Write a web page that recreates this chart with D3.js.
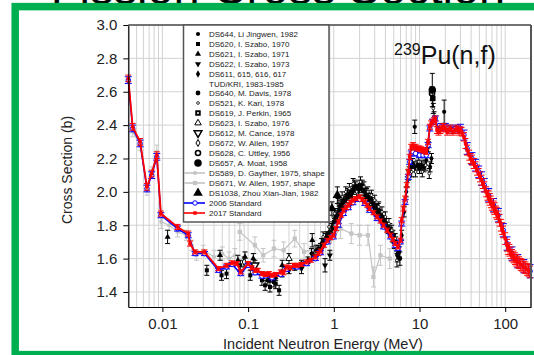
<!DOCTYPE html>
<html>
<head>
<meta charset="utf-8">
<script src="https://cdn.jsdelivr.net/npm/d3@7"></script>
<style>
  body { margin: 0; background: #fff; }
  svg { display: block; font-family: Arial, "Liberation Sans", sans-serif; }
</style>
</head>
<body>
<svg id="chart" width="534" height="355"></svg>
<script>
// ---- data: [energy MeV, cross section b, uncertainty b] ----
const yTicks = [1.4, 1.6, 1.8, 2.0, 2.2, 2.4, 2.6, 2.8, 3.0];
const xTicks = [0.01, 0.1, 1, 10, 100];
const xTickLabels = ['0.01', '0.1', '1', '10', '100'];

const std2017 = [
  [0.004, 2.68, 0.02], [0.0045, 2.39, 0.02], [0.0055, 2.30, 0.02], [0.0066, 2.03, 0.02],
  [0.0075, 2.11, 0.02], [0.0086, 2.22, 0.02], [0.0096, 1.87, 0.015], [0.015, 1.79, 0.015],
  [0.020, 1.75, 0.015], [0.021, 1.69, 0.015], [0.024, 1.64, 0.012], [0.031, 1.64, 0.012],
  [0.045, 1.54, 0.012], [0.056, 1.56, 0.012], [0.065, 1.575, 0.012], [0.074, 1.57, 0.012],
  [0.082, 1.52, 0.012], [0.1, 1.57, 0.012], [0.11, 1.545, 0.012], [0.121, 1.53, 0.012],
  [0.13, 1.53, 0.012], [0.145, 1.51, 0.012], [0.16, 1.505, 0.012], [0.175, 1.51, 0.012],
  [0.19, 1.50, 0.012], [0.21, 1.505, 0.012], [0.24, 1.52, 0.012], [0.26, 1.515, 0.012],
  [0.28, 1.55, 0.012], [0.31, 1.545, 0.012], [0.34, 1.56, 0.012], [0.37, 1.56, 0.012],
  [0.42, 1.565, 0.012], [0.48, 1.58, 0.012], [0.54, 1.59, 0.012], [0.61, 1.61, 0.012],
  [0.66, 1.63, 0.012], [0.70, 1.645, 0.012], [0.77, 1.68, 0.012], [0.84, 1.71, 0.012],
  [0.92, 1.725, 0.012], [0.99, 1.74, 0.012], [1.06, 1.78, 0.012], [1.13, 1.82, 0.012],
  [1.22, 1.86, 0.012], [1.30, 1.89, 0.012], [1.39, 1.905, 0.012], [1.48, 1.92, 0.012],
  [1.57, 1.935, 0.012], [1.67, 1.95, 0.012], [1.8, 1.96, 0.012], [2.0, 1.97, 0.012],
  [2.15, 1.955, 0.012], [2.3, 1.94, 0.012], [2.45, 1.92, 0.012], [2.6, 1.90, 0.012],
  [2.9, 1.875, 0.012], [3.2, 1.85, 0.012], [3.5, 1.825, 0.012], [3.8, 1.80, 0.012],
  [4.2, 1.77, 0.012], [4.6, 1.74, 0.012], [4.9, 1.715, 0.012], [5.2, 1.69, 0.012],
  [5.6, 1.67, 0.012], [6.0, 1.71, 0.012], [6.2, 1.83, 0.015], [6.5, 1.90, 0.015],
  [6.8, 1.96, 0.015], [7.1, 2.04, 0.015], [7.4, 2.12, 0.015], [7.7, 2.21, 0.015],
  [8.0, 2.27, 0.015], [8.4, 2.28, 0.015], [8.7, 2.265, 0.015], [9.0, 2.27, 0.015],
  [9.5, 2.26, 0.015], [10, 2.26, 0.015], [10.5, 2.255, 0.015], [11, 2.25, 0.015],
  [11.5, 2.245, 0.015], [12, 2.24, 0.015], [12.6, 2.30, 0.015], [13.2, 2.39, 0.015],
  [13.7, 2.41, 0.015], [14.2, 2.42, 0.015], [14.8, 2.43, 0.015], [15.3, 2.44, 0.015],
  [16, 2.37, 0.02], [16.7, 2.36, 0.02], [17.5, 2.37, 0.02], [18, 2.38, 0.02],
  [19, 2.39, 0.02], [20, 2.38, 0.02], [21, 2.36, 0.02], [22, 2.37, 0.02],
  [23, 2.38, 0.02], [24.5, 2.36, 0.02], [26.5, 2.37, 0.02], [27.5, 2.38, 0.02],
  [29, 2.36, 0.02], [30, 2.37, 0.02], [31, 2.36, 0.025], [33, 2.33, 0.025],
  [34.5, 2.29, 0.03], [36, 2.25, 0.03], [38, 2.22, 0.03], [39.5, 2.20, 0.03],
  [41, 2.19, 0.03], [43, 2.17, 0.03], [45, 2.15, 0.03], [47, 2.13, 0.03],
  [49, 2.11, 0.03], [51, 2.09, 0.03], [53, 2.07, 0.03], [55, 2.05, 0.03],
  [57, 2.03, 0.03], [60, 2.00, 0.03], [62, 1.98, 0.03], [64, 1.97, 0.035],
  [66, 1.955, 0.035], [68, 1.94, 0.035], [70, 1.925, 0.035], [73, 1.91, 0.035],
  [75, 1.90, 0.035], [78, 1.88, 0.035], [80, 1.87, 0.035], [83, 1.85, 0.035],
  [86, 1.83, 0.035], [89, 1.80, 0.035], [92, 1.78, 0.035], [95, 1.76, 0.035],
  [100, 1.72, 0.035], [105, 1.68, 0.035], [108, 1.66, 0.035], [112, 1.65, 0.035],
  [116, 1.635, 0.035], [120, 1.62, 0.035], [125, 1.61, 0.035], [130, 1.60, 0.035],
  [135, 1.59, 0.035], [140, 1.58, 0.035], [146, 1.575, 0.035], [152, 1.565, 0.035],
  [158, 1.56, 0.035], [165, 1.55, 0.035], [172, 1.545, 0.035], [180, 1.535, 0.035],
  [187, 1.53, 0.035], [195, 1.52, 0.035]
];

const std2006 = [
  [0.004, 2.67, 0.02], [0.0045, 2.38, 0.02], [0.0055, 2.29, 0.02], [0.0066, 2.02, 0.02],
  [0.0075, 2.10, 0.02], [0.0086, 2.21, 0.02], [0.0096, 1.86, 0.015], [0.015, 1.78, 0.015],
  [0.020, 1.74, 0.015], [0.024, 1.63, 0.012], [0.031, 1.63, 0.012], [0.045, 1.53, 0.012],
  [0.056, 1.55, 0.012], [0.065, 1.565, 0.012], [0.082, 1.51, 0.012], [0.1, 1.56, 0.012],
  [0.121, 1.515, 0.012], [0.145, 1.495, 0.012], [0.19, 1.485, 0.012], [0.24, 1.505, 0.012],
  [0.28, 1.535, 0.012], [0.37, 1.55, 0.012], [0.48, 1.57, 0.012], [0.61, 1.60, 0.012],
  [0.70, 1.635, 0.012], [0.84, 1.70, 0.012], [0.99, 1.73, 0.012], [1.13, 1.80, 0.012],
  [1.30, 1.87, 0.012], [1.48, 1.905, 0.012], [1.67, 1.935, 0.012], [2.0, 1.955, 0.012],
  [2.3, 1.93, 0.012], [2.6, 1.89, 0.012], [3.2, 1.84, 0.012], [3.8, 1.79, 0.012],
  [4.6, 1.73, 0.012], [5.2, 1.68, 0.012], [5.6, 1.66, 0.012], [6.0, 1.70, 0.012],
  [6.2, 1.81, 0.015], [6.8, 1.94, 0.015], [7.4, 2.09, 0.015], [7.7, 2.18, 0.015],
  [8.0, 2.23, 0.015], [8.4, 2.24, 0.015], [9.0, 2.23, 0.015], [10, 2.22, 0.015],
  [11, 2.22, 0.015], [12, 2.22, 0.015], [12.6, 2.28, 0.015], [13.2, 2.38, 0.015],
  [14.2, 2.42, 0.015], [15.3, 2.44, 0.015], [16.7, 2.37, 0.02], [18, 2.39, 0.02],
  [20, 2.39, 0.02], [22, 2.38, 0.02], [24.5, 2.37, 0.02], [26.5, 2.38, 0.02],
  [30, 2.38, 0.025], [33, 2.34, 0.03], [36, 2.26, 0.035], [41, 2.20, 0.035],
  [45, 2.16, 0.035], [49, 2.12, 0.035], [53, 2.08, 0.04], [57, 2.04, 0.04],
  [64, 1.98, 0.04], [73, 1.92, 0.04], [83, 1.86, 0.04], [95, 1.77, 0.04],
  [105, 1.69, 0.04], [120, 1.63, 0.04], [140, 1.585, 0.04], [165, 1.555, 0.04],
  [195, 1.525, 0.04]
];

const ds644 = [
  [0.55, 1.63, 0.03], [0.62, 1.65, 0.03], [0.72, 1.69, 0.03], [0.83, 1.73, 0.03],
  [0.97, 1.78, 0.03], [1.08, 1.85, 0.03], [1.18, 1.92, 0.03], [1.3, 1.94, 0.03],
  [1.45, 1.99, 0.03], [1.6, 1.97, 0.03], [1.75, 2.04, 0.03], [1.95, 2.01, 0.03],
  [2.15, 2.04, 0.03], [2.35, 1.97, 0.03], [2.6, 1.95, 0.03], [2.9, 1.91, 0.03],
  [3.2, 1.89, 0.03], [3.5, 1.86, 0.03], [3.9, 1.82, 0.03], [4.3, 1.78, 0.03],
  [4.8, 1.73, 0.03], [5.1, 1.69, 0.03], [5.5, 1.62, 0.04], [8.8, 2.39, 0.04],
  [19.4, 2.48, 0.07]
];
const ds620 = [
  [0.033, 1.53, 0.03], [0.049, 1.50, 0.03], [0.056, 1.51, 0.03], [0.081, 1.56, 0.03],
  [0.106, 1.50, 0.03], [0.145, 1.47, 0.03], [0.158, 1.44, 0.03], [0.17, 1.47, 0.03],
  [0.18, 1.43, 0.03], [0.2, 1.46, 0.03], [0.21, 1.45, 0.03], [0.23, 1.41, 0.03]
];
const ds621 = [
  [0.0115, 1.73, 0.04], [0.047, 1.62, 0.03], [0.076, 1.59, 0.03], [0.092, 1.61, 0.03],
  [0.115, 1.60, 0.03], [0.25, 1.56, 0.03], [0.56, 1.71, 0.04]
];
const ds622 = [[0.42, 1.54, 0.03], [0.79, 1.56, 0.04], [0.9, 1.62, 0.03]];
const ds611 = [
  [0.15, 1.50, 0.02], [0.18, 1.48, 0.02], [0.21, 1.49, 0.02], [0.25, 1.51, 0.02],
  [0.3, 1.53, 0.02], [0.35, 1.55, 0.02], [0.42, 1.57, 0.02], [0.5, 1.59, 0.02],
  [0.58, 1.62, 0.02], [0.66, 1.66, 0.02], [0.75, 1.70, 0.02], [0.85, 1.74, 0.02],
  [0.95, 1.79, 0.02], [1.05, 1.84, 0.025], [1.15, 1.89, 0.025], [1.25, 1.93, 0.025],
  [1.4, 1.96, 0.025], [1.55, 1.99, 0.025], [1.7, 2.01, 0.025], [1.9, 2.02, 0.025],
  [2.1, 2.02, 0.025], [2.3, 2.00, 0.025], [2.5, 1.97, 0.025], [2.8, 1.94, 0.025],
  [3.1, 1.90, 0.025], [3.4, 1.87, 0.025], [3.8, 1.83, 0.025], [4.2, 1.79, 0.025],
  [4.6, 1.76, 0.025], [5.0, 1.72, 0.025], [5.4, 1.67, 0.025], [5.8, 1.64, 0.03],
  [6.2, 1.74, 0.03], [6.6, 1.88, 0.03], [7.0, 2.00, 0.03], [7.4, 2.10, 0.03],
  [7.8, 2.15, 0.03], [8.3, 2.17, 0.03], [8.8, 2.15, 0.03], [9.4, 2.16, 0.03],
  [10, 2.14, 0.03], [10.6, 2.16, 0.03], [11.3, 2.15, 0.03], [12, 2.19, 0.03],
  [12.7, 2.27, 0.03], [13.3, 2.15, 0.03], [13.8, 2.20, 0.03]
];
const ds640 = [
  [0.7, 1.66, 0.03], [0.8, 1.72, 0.03], [0.9, 1.76, 0.03], [1.0, 1.82, 0.03],
  [1.1, 1.86, 0.03], [1.2, 1.90, 0.03], [1.35, 1.95, 0.03], [1.5, 1.98, 0.03],
  [1.65, 2.00, 0.03], [1.8, 2.03, 0.03], [2.0, 2.04, 0.03], [2.2, 2.01, 0.03],
  [2.4, 1.99, 0.03], [2.7, 1.96, 0.03], [3.0, 1.92, 0.03], [3.3, 1.90, 0.03],
  [3.7, 1.85, 0.03], [4.1, 1.81, 0.03], [4.5, 1.78, 0.03], [4.9, 1.74, 0.03],
  [5.3, 1.70, 0.03], [5.6, 1.63, 0.04], [5.9, 1.60, 0.04]
];
const ds521 = [
  [0.75, 1.73, 0.03], [0.88, 1.79, 0.03], [1.02, 1.87, 0.03], [1.12, 1.93, 0.03],
  [1.25, 1.97, 0.03], [1.38, 2.00, 0.03], [1.52, 2.02, 0.03], [1.68, 2.05, 0.03],
  [1.85, 2.00, 0.03], [2.05, 2.06, 0.03], [2.25, 2.03, 0.03], [2.5, 2.00, 0.03],
  [2.75, 1.98, 0.03], [3.0, 1.95, 0.03], [3.35, 1.91, 0.03], [3.65, 1.88, 0.03],
  [4.0, 1.85, 0.03], [4.4, 1.81, 0.03], [4.75, 1.77, 0.03], [5.2, 1.72, 0.03],
  [5.45, 1.59, 0.04], [7.2, 2.06, 0.03], [7.6, 2.12, 0.03], [8.1, 2.12, 0.03],
  [9.0, 2.12, 0.03], [9.8, 2.18, 0.03], [10.8, 2.12, 0.03], [11.8, 2.16, 0.03],
  [13.0, 2.11, 0.03], [14.5, 2.50, 0.03], [14.8, 2.45, 0.03]
];
const ds619 = [[14.3, 2.56, 0.05]];
const ds623 = [[0.3, 1.60, 0.03]];
const ds612 = [[0.12, 1.56, 0.03]];
const ds672 = [[0.09, 1.58, 0.03]];
const ds628 = [[14.0, 2.59, 0.04]];
const ds657 = [[14.1, 2.61, 0.1]];
const ds1038 = [[0.95, 1.90, 0.04], [1.1, 1.98, 0.05]];
const ds589 = [
  [0.0045, 2.36, 0.03], [0.0055, 2.28, 0.03], [0.0066, 2.01, 0.03], [0.0075, 2.12, 0.03],
  [0.0086, 2.24, 0.04], [0.0097, 1.82, 0.04], [0.012, 1.80, 0.03], [0.015, 1.76, 0.03],
  [0.019, 1.74, 0.03], [0.022, 1.68, 0.03], [0.025, 1.62, 0.03], [0.03, 1.65, 0.03],
  [0.04, 1.61, 0.04], [0.05, 1.63, 0.04], [0.06, 1.60, 0.04], [0.07, 1.62, 0.04]
];
const ds671 = [
  [0.08, 1.76, 0.05], [0.12, 1.68, 0.05], [0.15, 1.62, 0.04], [0.2, 1.66, 0.05],
  [0.26, 1.65, 0.05], [0.35, 1.72, 0.05], [0.45, 1.64, 0.05], [0.6, 1.66, 0.05],
  [0.9, 1.70, 0.06], [1.2, 1.78, 0.06], [1.6, 1.75, 0.06], [2.0, 1.74, 0.06],
  [2.5, 1.74, 0.06], [2.9, 1.49, 0.06], [3.5, 1.62, 0.06], [4.5, 1.60, 0.06]
];

const legendLabels = [
  'DS644, Li Jingwen, 1982', 'DS620, I. Szabo, 1970', 'DS621, I. Szabo, 1971',
  'DS622, I. Szabo, 1973', 'DS611, 615, 616, 617', 'DS640, M. Davis, 1978',
  'DS521, K. Kari, 1978', 'DS619, J. Perkin, 1965', 'DS623, I. Szabo, 1976',
  'DS612, M. Cance, 1978', 'DS672, W. Allen, 1957', 'DS628, C. Uttley, 1956',
  'DS657, A. Moat, 1958', 'DS589, D. Gayther, 1975, shape', 'DS671, W. Allen, 1957, shape',
  'DS1038, Zhou Xian-Jian, 1982', '2006 Standard', '2017 Standard'
];

// ---- marker styles ----
const styles = [
  { type: d3.symbolCircle, size: 14, fill: '#000', stroke: 'none' },
  { type: d3.symbolSquare, size: 16, fill: '#000', stroke: 'none' },
  { type: d3.symbolTriangle, size: 16, fill: '#000', stroke: 'none' },
  { type: d3.symbolTriangle, size: 16, fill: '#000', stroke: 'none', rot: 180 },
  { type: d3.symbolDiamond, size: 16, fill: '#000', stroke: 'none' },
  { type: d3.symbolCircle, size: 18, fill: '#000', stroke: 'none' },
  { type: d3.symbolCircle, size: 6, fill: '#fff', stroke: '#000', sw: 0.8 },
  { type: d3.symbolSquare, size: 30, fill: '#000', stroke: 'none', dot: true },
  { type: d3.symbolTriangle, size: 18, fill: '#fff', stroke: '#000', sw: 1 },
  { type: d3.symbolTriangle, size: 26, fill: '#fff', stroke: '#000', sw: 1.5, rot: 180 },
  { type: d3.symbolDiamond, size: 14, fill: '#fff', stroke: '#000', sw: 1 },
  { type: d3.symbolCircle, size: 20, fill: '#fff', stroke: '#000', sw: 1.6 },
  { type: d3.symbolCircle, size: 45, fill: '#000', stroke: 'none' },
  { type: d3.symbolCircle, size: 14, fill: '#c4c4c4', stroke: 'none', line: '#c4c4c4' },
  { type: d3.symbolSquare, size: 18, fill: '#c4c4c4', stroke: 'none', line: '#c4c4c4' },
  { type: d3.symbolTriangle, size: 40, fill: '#000', stroke: 'none' },
  { type: d3.symbolCircle, size: 16, fill: '#fff', stroke: '#0000ff', sw: 1, line: '#0000ff' },
  { type: d3.symbolSquare, size: 12, fill: '#ff0000', stroke: 'none', line: '#ff0000' }
];

const svg = d3.select('#chart');
const margin = { left: 128.3, right: 531, top: 25, bottom: 307 };
const x = d3.scaleLog().domain([0.004, 200]).range([margin.left, margin.right]);
const y = d3.scaleLinear().domain([1.31, 3.0]).range([margin.bottom, margin.top]);

// title (cut off by the frame, as in the source figure)
svg.append('text')
  .attr('x', 278).attr('y', 4)
  .attr('text-anchor', 'middle')
  .attr('font-size', 47)
  .attr('fill', '#000')
  .text('Fission Cross Section');

// grid
const minor = [];
for (let p = -3; p <= 2; p++) {
  for (let m = 1; m <= 9; m++) {
    const v = m * Math.pow(10, p);
    if (v >= 0.004 && v <= 200) minor.push(v);
  }
}
const grid = svg.append('g');
grid.selectAll('line.v').data(minor).enter().append('line')
  .attr('x1', d => x(d)).attr('x2', d => x(d))
  .attr('y1', margin.top).attr('y2', margin.bottom)
  .attr('stroke', '#d2d2d2').attr('stroke-width', 1);
grid.selectAll('line.h').data(yTicks.slice(0, -1)).enter().append('line')
  .attr('x1', margin.left).attr('x2', margin.right)
  .attr('y1', d => y(d)).attr('y2', d => y(d))
  .attr('stroke', '#d2d2d2').attr('stroke-width', 1);

const plot = svg.append('g');

function symbolPath(st) {
  return d3.symbol().type(st.type).size(st.size)();
}

function drawSet(data, st, opts) {
  const g = plot.append('g');
  const ec = opts.errColor || st.fill;
  const cap = opts.cap || 2.5;
  if (opts.line) {
    g.append('path').datum(data)
      .attr('d', d3.line().x(d => x(d[0])).y(d => y(d[1])))
      .attr('fill', 'none').attr('stroke', opts.line).attr('stroke-width', opts.lw || 1.2);
  }
  const eb = g.selectAll('g.eb').data(data).enter().append('g');
  eb.append('line')
    .attr('x1', d => x(d[0])).attr('x2', d => x(d[0]))
    .attr('y1', d => y(d[1] - d[2])).attr('y2', d => y(d[1] + d[2]))
    .attr('stroke', ec).attr('stroke-width', 1);
  [-1, 1].forEach(s => {
    eb.append('line')
      .attr('x1', d => x(d[0]) - cap).attr('x2', d => x(d[0]) + cap)
      .attr('y1', d => y(d[1] + s * d[2])).attr('y2', d => y(d[1] + s * d[2]))
      .attr('stroke', ec).attr('stroke-width', 1);
  });
  g.selectAll('path.pt').data(data).enter().append('path')
    .attr('d', symbolPath(st))
    .attr('transform', d => `translate(${x(d[0])},${y(d[1])}) rotate(${st.rot || 0})`)
    .attr('fill', st.fill).attr('stroke', st.stroke).attr('stroke-width', st.sw || 0);
}

// grey shape data
drawSet(ds589, styles[13], { line: '#c4c4c4', errColor: '#c4c4c4' });
drawSet(ds671, styles[14], { line: '#c4c4c4', errColor: '#c4c4c4' });
// experimental data
drawSet(ds620, styles[1], {});
drawSet(ds621, styles[2], {});
drawSet(ds622, styles[3], {});
drawSet(ds623, styles[8], { errColor: '#000' });
drawSet(ds612, styles[9], { errColor: '#000' });
drawSet(ds672, styles[10], { errColor: '#000' });
drawSet(ds611, styles[4], {});
drawSet(ds640, styles[5], {});
drawSet(ds644, styles[0], {});
drawSet(ds521, styles[6], { errColor: '#000' });
drawSet(ds1038, styles[15], {});
drawSet(ds619, styles[7], {});
drawSet(ds628, styles[11], { errColor: '#000' });
drawSet(ds657, styles[12], {});
// standards
drawSet(std2006, styles[16], { line: '#0000ff', errColor: '#0000ff', cap: 3.5, lw: 1.5 });
drawSet(std2017, styles[17], { line: '#ff0000', errColor: '#ff0000', cap: 3, lw: 1.8 });

// axes
const yAxis = d3.axisLeft(y).tickValues(yTicks).tickFormat(d3.format('.1f'))
  .tickSize(5).tickSizeOuter(0);
const gy = svg.append('g').attr('transform', `translate(${margin.left},0)`).call(yAxis);
const xAxis = d3.axisBottom(x).tickValues(xTicks).tickFormat((d, i) => xTickLabels[i])
  .tickSize(5).tickSizeOuter(0);
const gx = svg.append('g').attr('transform', `translate(0,${margin.bottom})`).call(xAxis);
[gx, gy].forEach(g => {
  g.selectAll('text').attr('font-size', 15).attr('fill', '#222')
    .attr('font-family', 'Arial, "Liberation Sans", sans-serif');
  g.select('.domain').attr('stroke', '#000').attr('stroke-width', 1.2);
  g.selectAll('.tick line').attr('stroke', '#000');
});
gy.selectAll('text').attr('x', -11);
gx.selectAll('text').attr('y', 11);

// plot frame top/right
svg.append('line').attr('x1', margin.left).attr('x2', margin.right)
  .attr('y1', margin.top).attr('y2', margin.top).attr('stroke', '#444').attr('stroke-width', 1.5);
svg.append('line').attr('x1', margin.right).attr('x2', margin.right)
  .attr('y1', margin.top).attr('y2', margin.bottom).attr('stroke', '#555').attr('stroke-width', 2);

// axis labels
svg.append('text')
  .attr('x', 323).attr('y', 349)
  .attr('text-anchor', 'middle').attr('font-size', 14.5).attr('fill', '#222')
  .text('Incident Neutron Energy (MeV)');
svg.append('text')
  .attr('transform', 'translate(72,170) rotate(-90)')
  .attr('text-anchor', 'middle').attr('font-size', 14).attr('fill', '#222')
  .text('Cross Section (b)');

// reaction label
const lab = svg.append('text').attr('x', 394).attr('y', 64).attr('fill', '#111');
lab.append('tspan').attr('font-size', 16).attr('dy', -9).text('239');
lab.append('tspan').attr('font-size', 25).attr('dy', 9).text('Pu(n,f)');

// legend
const leg = svg.append('g');
leg.append('rect')
  .attr('x', 183.5).attr('y', 25).attr('width', 145.5).attr('height', 197)
  .attr('fill', '#fff').attr('stroke', '#555').attr('stroke-width', 1.5);
const rowY = legendLabels.map((_, i) => i < 5 ? 34 + 10 * i : 93 + 10 * (i - 5));
legendLabels.forEach((label, i) => {
  const st = styles[i];
  const cy = rowY[i];
  if (st.line) {
    leg.append('line').attr('x1', 184).attr('x2', 205).attr('y1', cy).attr('y2', cy)
      .attr('stroke', st.line).attr('stroke-width', 1.6);
  }
  leg.append('path').attr('d', symbolPath(st))
    .attr('transform', `translate(${st.line ? 195 : 198},${cy}) rotate(${st.rot || 0})`)
    .attr('fill', st.fill).attr('stroke', st.stroke).attr('stroke-width', st.sw || 0);
  if (st.dot) {
    leg.append('circle').attr('cx', 198).attr('cy', cy).attr('r', 1).attr('fill', '#fff');
  }
  leg.append('text').attr('x', 209).attr('y', cy + 3)
    .attr('font-size', 8).attr('fill', '#222').text(label);
});
leg.append('text').attr('x', 209).attr('y', 84 + 2.5)
  .attr('font-size', 8).attr('fill', '#222').text('TUD/KRI, 1983-1985');

// green frame
svg.append('rect')
  .attr('x', 15.2).attr('y', 6.6).attr('width', 600).attr('height', 348)
  .attr('fill', 'none').attr('stroke', '#00b050').attr('stroke-width', 7.5);
</script>
</body>
</html>
